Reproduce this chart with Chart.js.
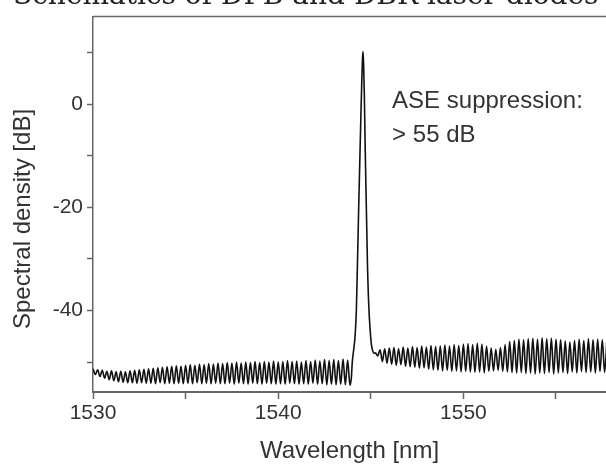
<!DOCTYPE html>
<html>
<head>
<meta charset="utf-8">
<script src="https://cdn.jsdelivr.net/npm/chart.js@4"></script>
<style>
  body { margin: 0; background: #fff; }
  #wrap { position: relative; width: 606px; height: 467px; overflow: hidden; }
  #heading {
    position: absolute; left: 13px; top: -19px;
    font: 28px/28px "DejaVu Serif", "Liberation Serif", serif;
    color: #222; white-space: nowrap;
  }
  canvas { position: absolute; left: 0; top: 0; }
</style>
</head>
<body>
<div id="wrap">
  <canvas id="spectrum" width="606" height="467"></canvas>
  <div id="heading">Schematics of DFB and DBR laser diodes</div>
</div>
<script>
// Spectrum of the laser diode (dB vs nm)
const gridStep = 0.125  // sampling of the ripple traces, nm

// short-wavelength side: 1530.0 ... 1543.875 nm, alternating ripple max / min
const blueSideStart = 1530.0
const blueSideDb = [
  -51.3, -52.4, -51.5, -52.8, -51.6, -53.1, -51.8, -53.4,
  -51.7, -53.6, -51.9, -53.8, -51.8, -53.9, -51.9, -54.0,
  -51.7, -54.0, -51.6, -54.1, -51.5, -54.0, -51.4, -54.1,
  -51.3, -54.1, -51.2, -54.2, -51.1, -54.0, -51.0, -54.2,
  -50.9, -54.1, -50.8, -54.2, -50.7, -54.1, -50.8, -54.2,
  -50.6, -54.1, -50.5, -54.2, -50.6, -54.0, -50.4, -54.2,
  -50.5, -54.1, -50.3, -54.2, -50.4, -54.1, -50.2, -54.2,
  -50.3, -54.2, -50.1, -54.1, -50.2, -54.3, -50.0, -54.1,
  -50.2, -54.2, -50.0, -54.3, -50.1, -54.1, -49.9, -54.2,
  -50.1, -54.3, -49.9, -54.1, -50.0, -54.2, -49.8, -54.3,
  -50.0, -54.2, -49.9, -54.3, -49.7, -54.1, -49.9, -54.2,
  -49.8, -54.3, -50.0, -54.2, -49.7, -54.3, -49.9, -54.1,
  -49.6, -54.3, -49.8, -54.2, -49.5, -54.4, -49.7, -54.3,
  -49.5, -54.4, -49.7, -54.3, -49.4, -54.4, -49.6, -54.5
]

// the lasing line
const peakNm = [1543.95, 1544.00, 1544.08, 1544.15, 1544.22, 1544.28, 1544.34, 1544.40, 1544.46,
  1544.51, 1544.55, 1544.58, 1544.61, 1544.65, 1544.70, 1544.76, 1544.82, 1544.89, 1544.96,
  1545.03, 1545.10, 1545.18]
const peakDb = [-53.0, -50.0, -47.5, -45.0, -40.0, -31.0, -21.0, -12.0, -3.0,
  4.0, 8.8, 10.2, 8.0, 2.0, -9.0, -20.0, -31.0, -39.0, -43.5,
  -46.5, -47.8, -48.3]

// long-wavelength side: 1545.25 ... 1557.75 nm
const redSideStart = 1545.25
const redSideDb = [
  -48.2, -48.8, -47.6, -49.9, -47.4, -50.2, -47.3, -50.4,
  -47.2, -50.6, -47.4, -50.5, -47.1, -50.8, -47.3, -50.9,
  -47.0, -51.0, -47.2, -51.2, -46.9, -51.1, -47.1, -51.4,
  -46.8, -51.5, -47.0, -51.6, -46.9, -51.7, -46.7, -51.6,
  -46.9, -51.8, -46.6, -51.7, -46.8, -51.9, -46.5, -51.8,
  -46.4, -51.9, -46.6, -52.0, -46.3, -51.9, -46.5, -52.1,
  -46.9, -51.8, -47.3, -51.7, -47.5, -51.6, -47.2, -51.8,
  -46.6, -51.9, -46.0, -52.0, -45.8, -52.1, -45.6, -52.0,
  -45.7, -52.2, -45.5, -52.1, -45.4, -52.3, -45.6, -52.1,
  -45.3, -52.2, -45.5, -52.0, -45.4, -52.3, -45.6, -52.1,
  -45.7, -52.0, -45.9, -52.2, -46.1, -51.9, -45.8, -52.1,
  -45.6, -51.8, -45.8, -52.0, -45.5, -51.9, -45.7, -52.1,
  -45.6, -51.8, -45.7, -52.0, -45.6
]

// axes
const xRange = [1530, 1557.7]
const yRange = [-55.8, 17]
const xLabelled = [1530, 1540, 1550]
const yLabelled = [0, -20, -40]
const xTitle = "Wavelength [nm]"
const yTitle = "Spectral density [dB]"
const noteLines = ["ASE suppression:", "> 55 dB"]
const notePos = { x: 1546.15, y: [-0.7, -7.4] }

const sansFont = "'Liberation Sans', Arial, sans-serif"
const inkColor = "#111"
const axisColor = "#666"

// build the points for Chart.js
const trace = []
blueSideDb.forEach((db, i) => trace.push({ x: blueSideStart + i * gridStep, y: db }))
peakNm.forEach((nm, i) => trace.push({ x: nm, y: peakDb[i] }))
redSideDb.forEach((db, i) => trace.push({ x: redSideStart + i * gridStep, y: db }))

// top frame line, rotated y title and the text note
const extras = {
  id: "extras",
  afterDraw(chart) {
    const { ctx, chartArea, scales } = chart
    ctx.save()
    ctx.strokeStyle = axisColor
    ctx.lineWidth = 1.5
    ctx.beginPath()
    ctx.moveTo(chartArea.left, chartArea.top)
    ctx.lineTo(chartArea.right, chartArea.top)
    ctx.stroke()

    ctx.fillStyle = "#333"
    ctx.font = "24px " + sansFont
    ctx.textAlign = "center"
    ctx.textBaseline = "alphabetic"
    ctx.translate(30, 219)
    ctx.rotate(-Math.PI / 2)
    ctx.fillText(yTitle, 0, 0)
    ctx.restore()

    ctx.save()
    ctx.fillStyle = "#333"
    ctx.font = "24px " + sansFont
    ctx.textAlign = "left"
    ctx.textBaseline = "alphabetic"
    const nx = scales.x.getPixelForValue(notePos.x)
    noteLines.forEach((line, i) => {
      ctx.fillText(line, nx, scales.y.getPixelForValue(notePos.y[i]))
    })
    ctx.restore()
  }
}

new Chart(document.getElementById("spectrum"), {
  type: "line",
  data: {
    datasets: [{
      label: "spectrum",
      data: trace,
      borderColor: inkColor,
      borderWidth: 1.6,
      pointRadius: 0,
      fill: false,
      cubicInterpolationMode: "monotone"
    }]
  },
  options: {
    responsive: false,
    animation: false,
    layout: { padding: { top: 13, right: 0, left: 0, bottom: 0 } },
    plugins: {
      legend: { display: false },
      tooltip: { enabled: false }
    },
    scales: {
      x: {
        type: "linear",
        min: xRange[0],
        max: xRange[1],
        afterFit: (scale) => { scale.height = 75 },
        border: { color: axisColor, width: 2 },
        grid: { drawOnChartArea: false, tickLength: 7, tickColor: axisColor, tickWidth: 1.5 },
        ticks: {
          stepSize: 5,
          includeBounds: false,
          maxRotation: 0,
          autoSkip: false,
          padding: 2,
          color: "#333",
          font: { family: sansFont, size: 21 },
          callback: (value) => xLabelled.includes(value) ? String(value) : ""
        },
        title: {
          display: true,
          text: xTitle,
          color: "#333",
          font: { family: sansFont, size: 24 },
          padding: { top: 0, bottom: 1 }
        }
      },
      y: {
        min: yRange[0],
        max: yRange[1],
        afterFit: (scale) => { scale.width = 93 },
        border: { color: axisColor, width: 1.5 },
        grid: { drawOnChartArea: false, tickLength: 6, tickColor: axisColor, tickWidth: 1.5 },
        ticks: {
          stepSize: 10,
          includeBounds: false,
          autoSkip: false,
          padding: 4,
          color: "#333",
          font: { family: sansFont, size: 21 },
          callback: (value) => yLabelled.includes(value) ? String(value) : ""
        }
      }
    }
  },
  plugins: [extras]
})
</script>
</body>
</html>
